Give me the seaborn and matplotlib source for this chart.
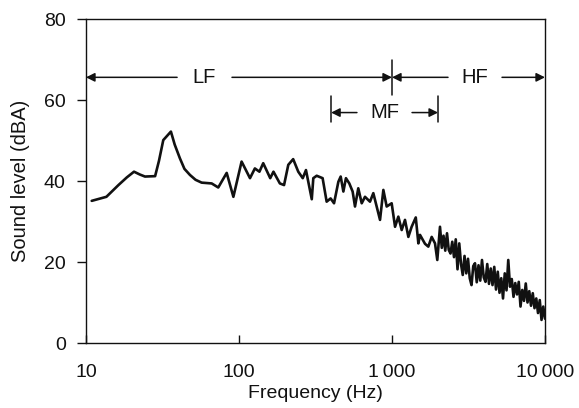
import matplotlib
matplotlib.use("Agg")
import matplotlib.pyplot as plt
import seaborn as sns
from matplotlib.ticker import FixedLocator, NullLocator, FixedFormatter

# Style first, then fonts (set_theme resets font.family).
sns.set_theme(style="white")
plt.rcParams["font.family"] = ["Liberation Sans", "DejaVu Sans"]

# Spectrum.
FREQ_HZ = [
    10.9, 13.6, 16.3, 18.5, 20.6, 22.5, 24.3, 28.3, 30.0, 32.0,
    35.9, 38.0, 41.1, 44.0, 47.8, 52.0, 57.0, 66.3, 73.2, 83.1,
    91.9, 104, 118, 127, 136, 144, 160, 168, 185, 197,
    210, 226, 244, 261, 274, 299, 306, 322, 352, 374,
    397, 418, 446, 462, 481, 500, 526, 553, 573, 602,
    634, 666, 718, 755, 794, 835, 878, 923, 995, 1047,
    1100, 1157, 1216, 1279, 1344, 1430, 1487, 1524, 1643, 1727,
    1817, 1910, 1977, 2059, 2115, 2171, 2229, 2288, 2349, 2412,
    2476, 2542, 2610, 2680, 2751, 2825, 2900, 2978, 3057, 3139,
    3222, 3308, 3397, 3487, 3580, 3676, 3774, 3874, 3978, 4084,
    4193, 4305, 4420, 4538, 4659, 4783, 4911, 5042, 5176, 5315,
    5457, 5602, 5752, 5905, 6063, 6225, 6391, 6561, 6736, 6916,
    7101, 7290, 7485, 7684, 7890, 8100, 8316, 8538, 8766, 9000,
    9240, 9487, 9740, 10000,
]
LEVEL_DBA = [
    35.1, 36.1, 39.0, 40.9, 42.3, 41.6, 41.1, 41.2, 45.0, 50.1,
    52.2, 49.0, 45.6, 43.0, 41.5, 40.3, 39.6, 39.4, 38.4, 42.0,
    36.1, 44.8, 40.7, 43.1, 42.3, 44.4, 40.7, 42.3, 39.4, 39.0,
    44.0, 45.4, 42.3, 40.7, 42.7, 35.5, 40.7, 41.3, 40.7, 34.9,
    35.7, 34.5, 39.8, 41.1, 37.4, 40.7, 39.4, 37.4, 33.7, 38.2,
    34.5, 36.1, 34.9, 37.0, 33.7, 30.4, 37.8, 33.7, 34.5, 28.7,
    31.2, 27.9, 30.4, 26.2, 28.7, 31.0, 24.6, 26.7, 24.5, 23.8,
    26.2, 24.6, 20.5, 28.7, 23.5, 26.5, 22.8, 27.1, 23.0, 22.1,
    25.0, 21.2, 25.6, 18.2, 24.6, 19.5, 16.8, 21.5, 17.2, 20.8,
    16.0, 14.3, 19.0, 19.7, 15.0, 19.2, 15.4, 20.5, 16.2, 15.1,
    19.5, 14.6, 18.4, 14.3, 18.8, 13.2, 17.6, 12.4, 16.0, 11.0,
    17.2, 13.0, 20.5, 13.9, 15.8, 11.4, 14.8, 12.0, 15.1, 9.0,
    13.1, 10.4, 14.7, 10.0, 12.8, 9.2, 12.3, 8.6, 11.0, 7.4,
    10.6, 5.7, 9.0, 6.0,
]

X_TICKS = [10, 100, 1000, 10000]
X_TICK_LABELS = ["10", "100", "1\u2009000", "10\u2009000"]
Y_TICKS = [0, 20, 40, 60, 80]

# Frequency bands: label, low edge, high edge
BAND_LABELS = ["LF", "MF", "HF"]
BAND_LOW = [10, 400, 1000]
BAND_HIGH = [1000, 2000, 10000]

# Layout of the band annotations (level, label x, gap around the label)
BAND_Y = [65.6, 56.9, 65.6]
BAND_TEXT_X = [59, 900, 3486]
BAND_GAP = [(39.4, 90), (590, 1352), (2323, 5236)]
BAND_BAR = [(None, (61.2, 69.9)), ((54.6, 61.1), (54.6, 61.1)), (None, None)]

INK = "#111111"

fig = plt.figure(figsize=(5.79, 4.08), dpi=100)
ax = fig.add_axes([0.1485, 0.1593, 0.7928, 0.7941])

sns.lineplot(x=FREQ_HZ, y=LEVEL_DBA, ax=ax, color=INK, linewidth=1.9,
             sort=False, estimator=None)

ax.set_xscale("log")
ax.set_xlim(10, 10000)
ax.set_ylim(0, 80)
ax.xaxis.set_major_locator(FixedLocator(X_TICKS))
ax.xaxis.set_major_formatter(FixedFormatter(X_TICK_LABELS))
ax.xaxis.set_minor_locator(NullLocator())
ax.set_yticks(Y_TICKS)

for side in ["left", "right", "top", "bottom"]:
    ax.spines[side].set_color(INK)
    ax.spines[side].set_linewidth(1.0)

ax.tick_params(axis="y", direction="out", length=6.5, width=1.0, colors=INK,
               labelsize=14, left=True, pad=8)
ax.tick_params(axis="x", direction="in", length=6, width=1.0, colors=INK,
               labelsize=14, bottom=True, pad=15)

ax.set_xlabel("Frequency (Hz)", fontsize=14, color=INK, labelpad=3)
ax.set_ylabel("Sound level (dBA)", fontsize=14.5, color=INK, labelpad=10)

arrow_kw = dict(arrowstyle="-|>", color=INK, lw=1.1, mutation_scale=13,
                shrinkA=0, shrinkB=0)
for i, label in enumerate(BAND_LABELS):
    y = BAND_Y[i]
    g_lo, g_hi = BAND_GAP[i]
    ax.annotate("", xy=(BAND_LOW[i], y), xytext=(g_lo, y), arrowprops=arrow_kw)
    ax.annotate("", xy=(BAND_HIGH[i], y), xytext=(g_hi, y), arrowprops=arrow_kw)
    ax.text(BAND_TEXT_X[i], y, label, ha="center", va="center",
            fontsize=14.5, color=INK)
    lo_bar, hi_bar = BAND_BAR[i]
    if lo_bar:
        ax.plot([BAND_LOW[i]] * 2, lo_bar, color=INK, lw=1.1)
    if hi_bar:
        ax.plot([BAND_HIGH[i]] * 2, hi_bar, color=INK, lw=1.1)

fig.savefig("out.png", dpi=100)
plt.close(fig)
